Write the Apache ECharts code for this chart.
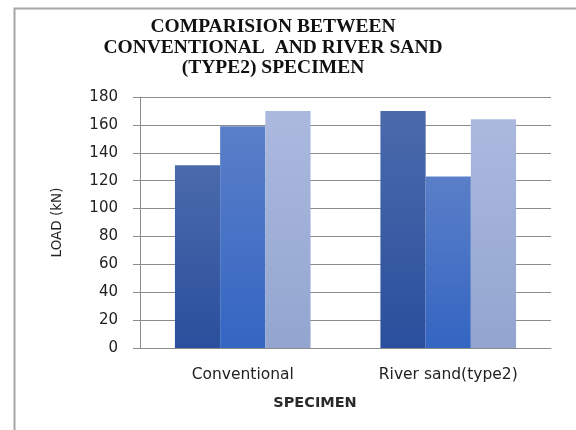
<!DOCTYPE html>
<html>
<head>
<meta charset="utf-8">
<script src="https://cdn.jsdelivr.net/npm/echarts@6/dist/echarts.min.js"></script>
<style>
  html, body { margin: 0; padding: 0; background: #fff; }
  #chart { width: 576px; height: 430px; }
</style>
</head>
<body>
<div id="chart"></div>
<script>
// Specimen groups and measured loads (kN) for the three test specimens in each group
const categories = ['Conventional', 'River sand(type2)'];
const specimen1 = [131, 170];
const specimen2 = [159, 123];
const specimen3 = [170, 164];
const yTicks = { min: 0, max: 180, interval: 20 };

const titleText = 'COMPARISION BETWEEN\nCONVENTIONAL  AND RIVER SAND\n(TYPE2) SPECIMEN';

function grad(top, bottom) {
  return new echarts.graphic.LinearGradient(0, 0, 0, 1, [
    { offset: 0, color: top },
    { offset: 1, color: bottom }
  ]);
}

const chart = echarts.init(document.getElementById('chart'), null, { renderer: 'canvas' });

chart.setOption({
  backgroundColor: '#ffffff',
  animation: false,
  graphic: [{
    type: 'rect',
    shape: { x: 14.5, y: 8.5, width: 600, height: 450 },
    style: { fill: 'none', stroke: '#a6a6a6', lineWidth: 2 },
    silent: true,
    z: 0
  }],
  title: {
    text: titleText,
    left: 268,
    top: 12,
    textAlign: 'center',
    textStyle: {
      fontFamily: 'Liberation Serif',
      fontWeight: 'bold',
      fontSize: 19.5,
      lineHeight: 20.5,
      color: '#111'
    }
  },
  grid: { left: 140, right: 25, top: 97, bottom: 82 },
  xAxis: {
    type: 'category',
    data: categories,
    name: 'SPECIMEN',
    nameLocation: 'middle',
    nameGap: 48,
    nameTextStyle: {
      fontFamily: 'DejaVu Sans',
      fontWeight: 'bold',
      fontSize: 14.5,
      color: '#2a2a2a',
      padding: [0, 61, 0, 0]
    },
    axisLine: { lineStyle: { color: '#8c8c8c', width: 1 } },
    axisTick: { show: false },
    axisLabel: {
      fontFamily: 'DejaVu Sans',
      fontSize: 15.5,
      color: '#222',
      margin: 19
    }
  },
  yAxis: {
    type: 'value',
    min: yTicks.min,
    max: yTicks.max,
    interval: yTicks.interval,
    name: 'LOAD (kN)',
    nameLocation: 'middle',
    nameGap: 76,
    nameRotate: 90,
    nameTextStyle: {
      fontFamily: 'DejaVu Sans',
      fontSize: 13.5,
      color: '#222'
    },
    axisLine: { show: true, lineStyle: { color: '#8c8c8c', width: 1 } },
    axisTick: { show: true, inside: false, length: 7, lineStyle: { color: '#8c8c8c' } },
    splitLine: { lineStyle: { color: '#8c8c8c', width: 1 } },
    axisLabel: {
      fontFamily: 'DejaVu Sans',
      fontSize: 15,
      color: '#222',
      margin: 22
    }
  },
  series: [
    {
      type: 'bar',
      data: specimen1,
      barGap: '0%',
      barCategoryGap: '34%',
      itemStyle: { color: grad('#4b6aac', '#2a4f9c') }
    },
    {
      type: 'bar',
      data: specimen2,
      itemStyle: { color: grad('#5a7fc8', '#3465c2') }
    },
    {
      type: 'bar',
      data: specimen3,
      itemStyle: { color: grad('#abb9df', '#93a5cf') }
    }
  ]
});
</script>
</body>
</html>
